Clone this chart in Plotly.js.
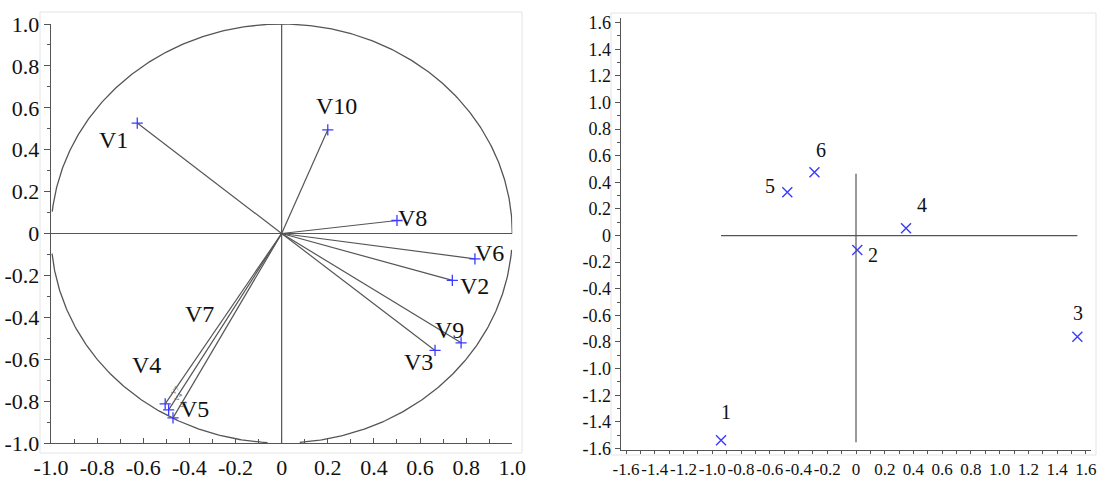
<!DOCTYPE html>
<html>
<head>
<meta charset="utf-8">
<script src="https://cdn.plot.ly/plotly-3.0.1.min.js"></script>
<style>
  html, body { margin: 0; padding: 0; background: #ffffff; }
  #chart { width: 1099px; height: 479px; }
</style>
</head>
<body>
<div id="chart"></div>
<script>
// Variable loadings on the first two components (correlation circle)
const varNames = ['V1', 'V2', 'V3', 'V4', 'V5', 'V6', 'V7', 'V8', 'V9', 'V10'];
const loadX = [-0.626, 0.740, 0.665, -0.505, -0.471, 0.838, -0.490, 0.500, 0.778, 0.200];
const loadY = [0.527, -0.224, -0.558, -0.813, -0.880, -0.121, -0.842, 0.062, -0.522, 0.495];

// Scores of the individuals on the same plane
const obsNames = ['1', '2', '3', '4', '5', '6'];
const scoreX = [-0.939, 0.009, 1.540, 0.348, -0.478, -0.289];
const scoreY = [-1.538, -0.109, -0.761, 0.054, 0.325, 0.475];

// Tick values and their printed labels
const leftTickVals = [-1.0, -0.8, -0.6, -0.4, -0.2, 0, 0.2, 0.4, 0.6, 0.8, 1.0];
const leftTickText = ['-1.0', '-0.8', '-0.6', '-0.4', '-0.2', '0', '0.2', '0.4', '0.6', '0.8', '1.0'];
const rightTickVals = [-1.6, -1.4, -1.2, -1.0, -0.8, -0.6, -0.4, -0.2, 0, 0.2, 0.4, 0.6, 0.8, 1.0, 1.2, 1.4, 1.6];
const rightTickText = ['-1.6', '-1.4', '-1.2', '-1.0', '-0.8', '-0.6', '-0.4', '-0.2', '0',
                       '0.2', '0.4', '0.6', '0.8', '1.0', '1.2', '1.4', '1.6'];

// Label placement (pixel offsets from each point)
const varLabelShift = {
  V1: [-24, -17], V2: [22, -6], V3: [-17, -12], V4: [-19, 39], V5: [21, 9],
  V6: [15, 6], V7: [31, 96], V8: [16, 3], V9: [-12, 13], V10: [9, 24]
};
const obsLabelShift = {
  '1': [5, 28], '2': [16, -5], '3': [1, 24], '4': [16, 23], '5': [-17, 6], '6': [7, 22]
};

const SERIF = "'Liberation Serif', 'Times New Roman', Times, serif";
const LINE = '#555555';
const MARK = '#3b3bff';

// Unit circle drawn as separate arcs (angles in degrees)
const arcs = [[0, 174], [185.5, 266.5], [274.5, 355.5]];
const circX = [], circY = [];
arcs.forEach(([a0, a1]) => {
  for (let a = a0; a <= a1 + 1e-9; a += 0.5) {
    const r = a * Math.PI / 180;
    circX.push(Math.cos(r));
    circY.push(Math.sin(r));
  }
  circX.push(null); circY.push(null);
});

// Vectors from the origin to every loading
const vecX = [], vecY = [];
loadX.forEach((x, i) => { vecX.push(0, x, null); vecY.push(0, loadY[i], null); });

const traces = [
  { x: circX, y: circY, mode: 'lines', line: { color: LINE, width: 1.3 },
    xaxis: 'x', yaxis: 'y', hoverinfo: 'skip', showlegend: false },
  { x: vecX, y: vecY, mode: 'lines', line: { color: LINE, width: 1.2 },
    xaxis: 'x', yaxis: 'y', hoverinfo: 'skip', showlegend: false },
  { x: loadX, y: loadY, text: varNames, mode: 'markers',
    marker: { symbol: 'cross-thin-open', size: 8, color: MARK, line: { color: MARK, width: 1.3 } },
    xaxis: 'x', yaxis: 'y', showlegend: false },
  { x: scoreX, y: scoreY, text: obsNames, mode: 'markers',
    marker: { symbol: 'x-thin-open', size: 10, color: MARK, line: { color: MARK, width: 1.4 } },
    xaxis: 'x2', yaxis: 'y2', showlegend: false }
];

const annotations = [];
varNames.forEach((n, i) => {
  const s = varLabelShift[n];
  annotations.push({ x: loadX[i], y: loadY[i], xref: 'x', yref: 'y', text: n, showarrow: false,
    xshift: s[0], yshift: s[1], font: { family: SERIF, size: 24, color: '#111' } });
});
// small tags drawn next to the tightly packed vector heads
[['V7', 3], ['V4', 6], ['V5', 4]].forEach(([n, k]) => {
  annotations.push({ x: loadX[k], y: loadY[k], xref: 'x', yref: 'y', text: n, showarrow: false,
    xshift: 10, yshift: 13, textangle: -55, font: { family: SERIF, size: 7, color: '#666' } });
});
obsNames.forEach((n, i) => {
  const s = obsLabelShift[n];
  annotations.push({ x: scoreX[i], y: scoreY[i], xref: 'x2', yref: 'y2', text: n, showarrow: false,
    xshift: s[0], yshift: s[1], font: { family: SERIF, size: 20, color: '#111' } });
});

const xMin = Math.min(...scoreX), xMax = Math.max(...scoreX);
const yMin = Math.min(...scoreY), yMax = Math.max(...scoreY);

const shapes = [
  // light frames around both panels
  { type: 'rect', xref: 'paper', yref: 'paper', x0: 40 / 1099, x1: 522 / 1099, y0: 1 - 453 / 479, y1: 1 - 12 / 479,
    line: { color: '#e4e4e4', width: 1 }, layer: 'below' },
  { type: 'rect', xref: 'paper', yref: 'paper', x0: 611 / 1099, x1: 1096 / 1099, y0: 1 - 455 / 479, y1: 1 - 13 / 479,
    line: { color: '#e4e4e4', width: 1 }, layer: 'below' },
  // axes through the origin of the correlation circle
  { type: 'line', xref: 'x', yref: 'y', x0: -1, x1: 1, y0: 0, y1: 0, line: { color: LINE, width: 1.2 } },
  { type: 'line', xref: 'x', yref: 'y', x0: 0, x1: 0, y0: -1, y1: 1, line: { color: LINE, width: 1.2 } },
  // cross through the origin spanning the scores
  { type: 'line', xref: 'x2', yref: 'y2', x0: xMin, x1: xMax, y0: 0, y1: 0, line: { color: LINE, width: 1.2 } },
  { type: 'line', xref: 'x2', yref: 'y2', x0: 0, x1: 0, y0: yMin - 0.015, y1: yMax - 0.01, line: { color: LINE, width: 1.2 } }
];

const tickFontL = { family: SERIF, size: 22, color: '#111' };
const tickFontR = { family: SERIF, size: 18, color: '#111' };
const tickFontRX = { family: SERIF, size: 17, color: '#111' };

const layout = {
  width: 1099, height: 479,
  margin: { l: 0, r: 0, t: 0, b: 0 },
  paper_bgcolor: '#ffffff', plot_bgcolor: 'rgba(0,0,0,0)',
  showlegend: false,
  font: { family: SERIF },
  xaxis: {
    domain: [51 / 1099, 512.3 / 1099], range: [-1, 1], anchor: 'y',
    showgrid: false, zeroline: false, showline: true, linecolor: LINE, linewidth: 1.3,
    tickmode: 'array', tickvals: leftTickVals, ticktext: leftTickText, tickangle: 0,
    ticks: 'inside', ticklen: 5, tickcolor: LINE, tickfont: tickFontL, ticklabelstandoff: 4,
    minor: { tickmode: 'linear', tick0: 0, dtick: 0.1, ticks: 'inside', ticklen: 4, tickcolor: LINE }
  },
  yaxis: {
    domain: [1 - 443 / 479, 1 - 24 / 479], range: [-1, 1], anchor: 'x',
    showgrid: false, zeroline: false, showline: true, linecolor: LINE, linewidth: 1.3,
    tickmode: 'array', tickvals: leftTickVals, ticktext: leftTickText,
    ticks: 'outside', ticklen: 6, tickcolor: LINE, tickfont: tickFontL,
    minor: { tickmode: 'linear', tick0: 0, dtick: 0.1, ticks: 'outside', ticklen: 3, tickcolor: LINE }
  },
  xaxis2: {
    domain: [621 / 1099, 1091 / 1099], range: [-1.635, 1.635], anchor: 'y2',
    showgrid: false, zeroline: false, showline: true, linecolor: LINE, linewidth: 1.3,
    tickmode: 'array', tickvals: rightTickVals, ticktext: rightTickText, tickangle: 0,
    ticks: 'outside', ticklen: 3, tickcolor: LINE, tickfont: tickFontRX,
    minor: { tickmode: 'linear', tick0: 0, dtick: 0.1, ticks: 'outside', ticklen: 3, tickcolor: LINE }
  },
  yaxis2: {
    domain: [1 - 450 / 479, 1 - 18 / 479], range: [-1.612, 1.635], anchor: 'x2',
    showgrid: false, zeroline: false, showline: true, linecolor: LINE, linewidth: 1.3,
    tickmode: 'array', tickvals: rightTickVals, ticktext: rightTickText,
    ticks: 'outside', ticklen: 5, tickcolor: LINE, tickfont: tickFontR,
    minor: { tickmode: 'linear', tick0: 0, dtick: 0.1, ticks: 'outside', ticklen: 3, tickcolor: LINE }
  },
  shapes: shapes,
  annotations: annotations
};

Plotly.newPlot('chart', traces, layout, { displayModeBar: false, staticPlot: true });
</script>
</body>
</html>
